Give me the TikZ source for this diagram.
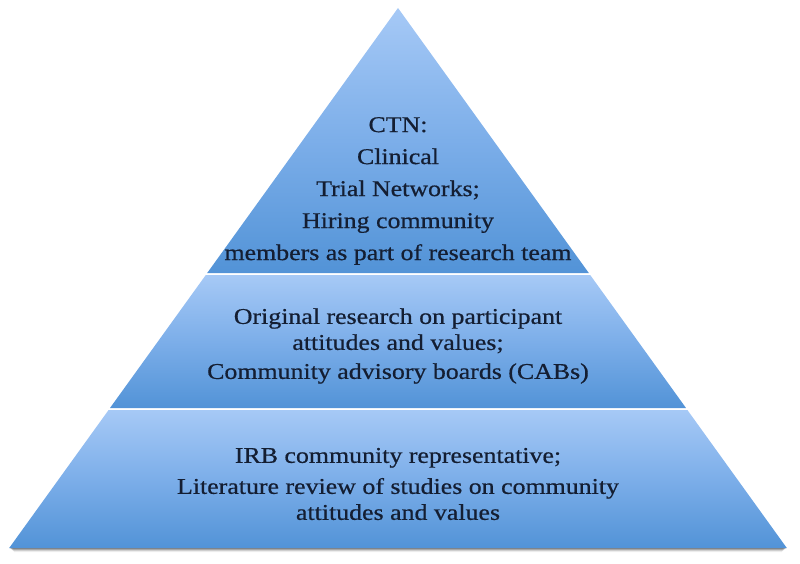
\documentclass[tikz,border=0pt]{standalone}
\usepackage{fontspec}
\setmainfont{Liberation Serif}[FakeStretch=1.15,FakeBold=0.6]
\definecolor{ltop}{RGB}{166,201,246}
\definecolor{lmid}{RGB}{124,174,233}
\definecolor{lbot}{RGB}{82,147,215}
\definecolor{txt}{RGB}{20,30,50}
\tikzset{
  layer/.style={top color=ltop, bottom color=lbot, middle color=lmid, draw=none},
  lbl/.style={text=txt, align=center, font=\fontsize{22.5}{26}\selectfont, inner sep=0pt}
}
\begin{document}
\begin{tikzpicture}[x=1pt,y=-1pt]
\useasboundingbox (0,0) rectangle (800,564);
% shadow under base
\foreach \o/\a in {1/0.25,2/0.18,3/0.12,4/0.06}{
  \fill[black,opacity=\a] (9.2+\o,548) -- (786.8-\o,548) -- (786.8-\o-1,548+\o) -- (9.2+\o+1,548+\o) -- cycle;
}
% layers
\shade[layer] (398,8) -- (588.8,273) -- (207.2,273) -- cycle;
\shade[layer] (205.8,275) -- (590.2,275) -- (686,408) -- (110,408) -- cycle;
\shade[layer] (108.6,410) -- (687.4,410) -- (786.8,548) -- (9.2,548) -- cycle;
% texts
\node[lbl] (top) at (398,191) {CTN:\\[6pt] Clinical\\[6pt] Trial Networks;\\[6pt] Hiring community\\[6pt] members as part of research team};
\node[lbl] (mid) at (398,346) {Original research on participant\\ attitudes and values;\\[3pt] Community advisory boards (CABs)};
\node[lbl] (bot) at (398,484) {IRB community representative;\\[5pt] Literature review of studies on community\\ attitudes and values};
\end{tikzpicture}
\end{document}
